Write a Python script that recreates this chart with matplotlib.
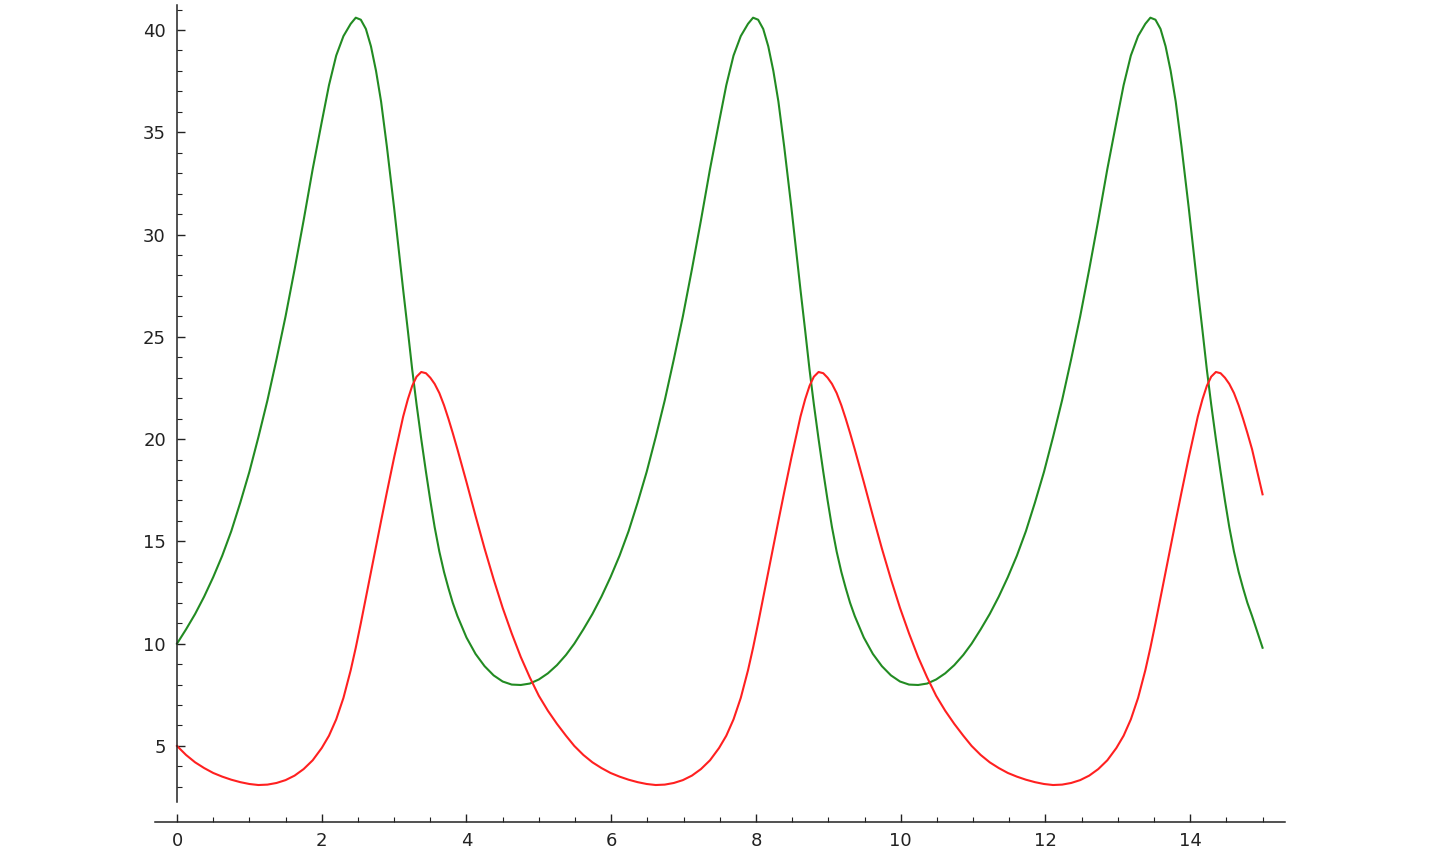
import matplotlib.pyplot as plt
from matplotlib.ticker import MultipleLocator

# time axis (three cycles, ~5.49 long each)
t = [0.0, 0.125, 0.25, 0.375, 0.5, 0.625, 0.75, 0.875,
     1.0, 1.125, 1.25, 1.375, 1.5, 1.625, 1.75, 1.875,
     2.0, 2.1, 2.2, 2.3, 2.4, 2.47, 2.54, 2.61, 2.68, 2.75, 2.82, 2.9,
     3.0, 3.125, 3.19, 3.25, 3.31, 3.375, 3.44, 3.5, 3.56, 3.625, 3.69, 3.75, 3.81, 3.875,
     4.0, 4.125, 4.25, 4.375, 4.5, 4.625, 4.75, 4.875,
     5.0, 5.125, 5.25, 5.375,
     # second cycle
     5.49, 5.615, 5.74, 5.865, 5.99, 6.115, 6.24, 6.365,
     6.49, 6.615, 6.74, 6.865, 6.99, 7.115, 7.24, 7.365,
     7.49, 7.59, 7.69, 7.79, 7.89, 7.96, 8.03, 8.10, 8.17, 8.24, 8.31, 8.39,
     8.49, 8.615, 8.68, 8.74, 8.80, 8.865, 8.93, 8.99, 9.05, 9.115, 9.18, 9.24, 9.30, 9.365,
     9.49, 9.615, 9.74, 9.865, 9.99, 10.115, 10.24, 10.365,
     10.49, 10.615, 10.74, 10.865,
     # third cycle
     10.98, 11.105, 11.23, 11.355, 11.48, 11.605, 11.73, 11.855,
     11.98, 12.105, 12.23, 12.355, 12.48, 12.605, 12.73, 12.855,
     12.98, 13.08, 13.18, 13.28, 13.38, 13.45, 13.52, 13.59, 13.66, 13.73, 13.80, 13.88,
     13.98, 14.105, 14.17, 14.23, 14.29, 14.355, 14.42, 14.48, 14.54, 14.605, 14.67, 14.73,
     14.79, 14.855, 15.0]

# green curve
prey = [10.0, 10.7, 11.45, 12.3, 13.25, 14.3, 15.5, 16.9,
        18.4, 20.1, 21.9, 23.9, 26.0, 28.3, 30.7, 33.2,
        35.5, 37.3, 38.75, 39.7, 40.3, 40.6, 40.5, 40.05, 39.2, 38.0, 36.5, 34.3,
        31.3, 27.3, 25.3, 23.4, 21.7, 20.0, 18.4, 17.0, 15.7, 14.5, 13.5, 12.72, 12.0, 11.35,
        10.3, 9.5, 8.9, 8.45, 8.15, 8.0, 7.98, 8.05,
        8.25, 8.55, 8.95, 9.45,
        10.0, 10.7, 11.45, 12.3, 13.25, 14.3, 15.5, 16.9,
        18.4, 20.1, 21.9, 23.9, 26.0, 28.3, 30.7, 33.2,
        35.5, 37.3, 38.75, 39.7, 40.3, 40.6, 40.5, 40.05, 39.2, 38.0, 36.5, 34.3,
        31.3, 27.3, 25.3, 23.4, 21.7, 20.0, 18.4, 17.0, 15.7, 14.5, 13.5, 12.72, 12.0, 11.35,
        10.3, 9.5, 8.9, 8.45, 8.15, 8.0, 7.98, 8.05,
        8.25, 8.55, 8.95, 9.45,
        10.0, 10.7, 11.45, 12.3, 13.25, 14.3, 15.5, 16.9,
        18.4, 20.1, 21.9, 23.9, 26.0, 28.3, 30.7, 33.2,
        35.5, 37.3, 38.75, 39.7, 40.3, 40.6, 40.5, 40.05, 39.2, 38.0, 36.5, 34.3,
        31.3, 27.3, 25.3, 23.4, 21.7, 20.0, 18.4, 17.0, 15.7, 14.5, 13.5, 12.72,
        12.0, 11.35, 9.8]

# red curve
predator = [5.0, 4.56, 4.2, 3.92, 3.68, 3.5, 3.35, 3.23,
            3.14, 3.09, 3.11, 3.19, 3.33, 3.55, 3.87, 4.3,
            4.9, 5.5, 6.3, 7.35, 8.7, 9.8, 11.0, 12.25, 13.5, 14.75, 16.0, 17.4,
            19.1, 21.1, 21.95, 22.6, 23.05, 23.28, 23.22, 23.0, 22.7, 22.25, 21.65, 21.0, 20.3, 19.5,
            17.9, 16.25, 14.65, 13.15, 11.75, 10.5, 9.35, 8.35,
            7.45, 6.72, 6.08, 5.5,
            5.0, 4.56, 4.2, 3.92, 3.68, 3.5, 3.35, 3.23,
            3.14, 3.09, 3.11, 3.19, 3.33, 3.55, 3.87, 4.3,
            4.9, 5.5, 6.3, 7.35, 8.7, 9.8, 11.0, 12.25, 13.5, 14.75, 16.0, 17.4,
            19.1, 21.1, 21.95, 22.6, 23.05, 23.28, 23.22, 23.0, 22.7, 22.25, 21.65, 21.0, 20.3, 19.5,
            17.9, 16.25, 14.65, 13.15, 11.75, 10.5, 9.35, 8.35,
            7.45, 6.72, 6.08, 5.5,
            5.0, 4.56, 4.2, 3.92, 3.68, 3.5, 3.35, 3.23,
            3.14, 3.09, 3.11, 3.19, 3.33, 3.55, 3.87, 4.3,
            4.9, 5.5, 6.3, 7.35, 8.7, 9.8, 11.0, 12.25, 13.5, 14.75, 16.0, 17.4,
            19.1, 21.1, 21.95, 22.6, 23.05, 23.28, 23.22, 23.0, 22.7, 22.25, 21.65, 21.0,
            20.3, 19.5, 17.3]

fig = plt.figure(figsize=(14.4, 8.64), dpi=100)
ax = fig.add_axes([155 / 1440, 62 / 864, 1130 / 1440, 797 / 864])

ax.plot(t, prey, color='#228b22', lw=1.5)
ax.plot(t, predator, color='#ff2020', lw=1.5)

ax.set_xlim(-0.304, 15.31)
ax.set_ylim(2.26, 41.22)

# sage-like axes: y axis at x=0, x axis pushed below
ax.spines['top'].set_visible(False)
ax.spines['right'].set_visible(False)
ax.spines['left'].set_position(('data', 0))
ax.spines['bottom'].set_position(('outward', 14.4))
for s in ['left', 'bottom']:
    ax.spines[s].set_linewidth(1.1)
    ax.spines[s].set_color('#222222')

ax.xaxis.set_major_locator(MultipleLocator(2))
ax.xaxis.set_minor_locator(MultipleLocator(0.5))
ax.yaxis.set_major_locator(MultipleLocator(5))
ax.yaxis.set_minor_locator(MultipleLocator(1))
ax.set_xticks([v for v in range(0, 15, 2)])
ax.set_yticks([v for v in range(5, 41, 5)])

ax.tick_params(which='both', direction='in', colors='#222222', labelsize=13,
               labelcolor='#222222')
ax.tick_params(which='major', length=6, width=1.0)
ax.tick_params(which='minor', length=3.5, width=0.8)
ax.tick_params(axis='y', pad=8)
ax.tick_params(axis='x', pad=7)

fig.savefig('out.png', dpi=100)
